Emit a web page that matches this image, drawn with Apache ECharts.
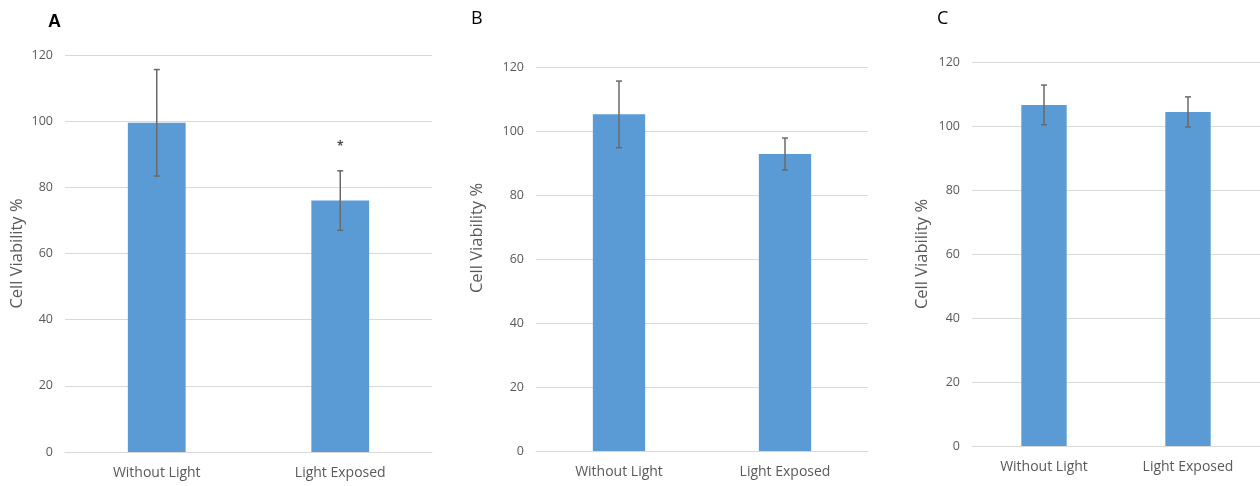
<!DOCTYPE html>
<html>
<head>
<meta charset="utf-8">
<script src="https://cdn.jsdelivr.net/npm/echarts@6/dist/echarts.min.js"></script>
<style>
  html, body { margin: 0; padding: 0; background: #fff; }
  #main { width: 1260px; height: 486px; }
</style>
</head>
<body>
<div id="main"></div>
<script>
const categories = ['Without Light', 'Light Exposed']
const panelLabels = ['A', 'B', 'C']

// mean cell viability (%) and error (+/-) for each panel
const viabilityA = [99.5, 76.0]
const errorA = [16.1, 9.0]
const viabilityB = [105.2, 92.8]
const errorB = [10.4, 5.0]
const viabilityC = [106.6, 104.4]
const errorC = [6.2, 4.7]

// significance marker in panel A: [category index, height]
const starA = [[1, 92.4]]

const yMin = 0
const yMax = 120
const yStep = 20

const font = 'Open Sans'
const barColor = '#5b9bd5'
const gridColor = '#d9d9d9'
const textColor = '#595959'

const panels = [
  { values: viabilityA, errors: errorA, grid: { left: 65, top: 55, width: 367, height: 397 }, nameGap: 39, namePad: 0 },
  { values: viabilityB, errors: errorB, grid: { left: 536, top: 67, width: 332, height: 384 }, nameGap: 50, namePad: 42 },
  { values: viabilityC, errors: errorC, grid: { left: 972, top: 62, width: 288, height: 384 }, nameGap: 41, namePad: 0 }
]

function errorRange (values, errors) {
  return values.map((v, i) => [i, v - errors[i], v + errors[i]])
}

function renderError (params, api) {
  const x = api.value(0)
  const top = api.coord([x, api.value(2)])
  const bot = api.coord([x, api.value(1)])
  const hw = 3
  const style = { stroke: '#6a6a6a', lineWidth: 1.5 }
  return {
    type: 'group',
    children: [
      { type: 'line', shape: { x1: top[0], y1: top[1], x2: bot[0], y2: bot[1] }, style },
      { type: 'line', shape: { x1: top[0] - hw, y1: top[1], x2: top[0] + hw, y2: top[1] }, style },
      { type: 'line', shape: { x1: bot[0] - hw, y1: bot[1], x2: bot[0] + hw, y2: bot[1] }, style }
    ]
  }
}

const chart = echarts.init(document.getElementById('main'))

const options = {
  backgroundColor: '#fff',
  animation: false,
  title: [
    { text: panelLabels[0], left: 43, top: 8, textStyle: { fontFamily: 'Liberation Sans', fontSize: 18, fontWeight: 'bold', color: '#000' } },
    { text: panelLabels[1], left: 466, top: 5, textStyle: { fontFamily: font, fontSize: 18, fontWeight: 'normal', color: '#000' } },
    { text: panelLabels[2], left: 932, top: 5, textStyle: { fontFamily: font, fontSize: 18, fontWeight: 'normal', color: '#000' } }
  ],
  grid: panels.map(p => Object.assign({ containLabel: false }, p.grid)),
  xAxis: panels.map((p, i) => ({
    type: 'category',
    gridIndex: i,
    data: categories,
    axisLine: { lineStyle: { color: gridColor, width: 1 } },
    axisTick: { show: false },
    axisLabel: { color: textColor, fontFamily: font, fontSize: 14, margin: 14 }
  })),
  yAxis: panels.map((p, i) => ({
    type: 'value',
    gridIndex: i,
    min: yMin,
    max: yMax,
    interval: yStep,
    name: 'Cell Viability %',
    nameLocation: 'middle',
    nameRotate: 90,
    nameGap: p.nameGap,
    nameTextStyle: { color: textColor, fontFamily: font, fontSize: 16.5, padding: [0, 0, 0, p.namePad] },
    axisLine: { show: false },
    axisTick: { show: false },
    axisLabel: { color: textColor, fontFamily: font, fontSize: 12.5, margin: 12 },
    splitLine: { lineStyle: { color: gridColor, width: 1 } }
  })),
  series: []
}

panels.forEach((p, i) => {
  options.series.push({
    type: 'bar',
    xAxisIndex: i,
    yAxisIndex: i,
    data: p.values,
    barWidth: '31.5%',
    itemStyle: { color: barColor },
    silent: true
  })
  options.series.push({
    type: 'custom',
    xAxisIndex: i,
    yAxisIndex: i,
    data: errorRange(p.values, p.errors),
    encode: { x: 0, y: [1, 2] },
    renderItem: renderError,
    z: 5,
    silent: true
  })
})

options.series.push({
  type: 'scatter',
  xAxisIndex: 0,
  yAxisIndex: 0,
  data: starA,
  symbolSize: 0,
  label: {
    show: true,
    position: 'inside',
    formatter: '*',
    color: '#222',
    fontFamily: font,
    fontSize: 12,
    fontWeight: 'bold'
  },
  silent: true
})

chart.setOption(options)
</script>
</body>
</html>
